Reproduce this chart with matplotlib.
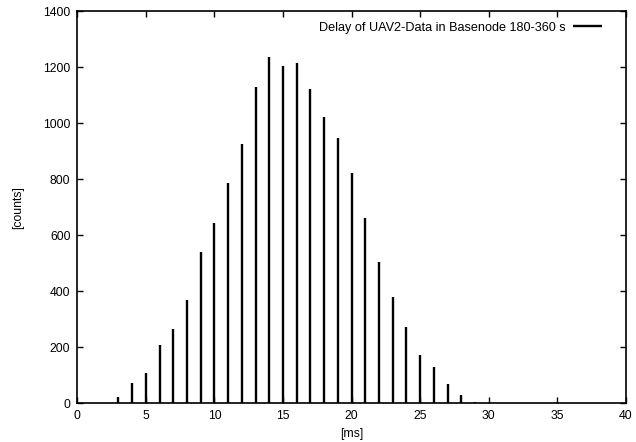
import matplotlib
matplotlib.use("Agg")
import matplotlib.pyplot as plt

plt.rcParams['font.family'] = ['Liberation Sans', 'DejaVu Sans']

delay_ms = [3, 4, 5, 6, 7, 8, 9, 10, 11, 12, 13, 14, 15, 16, 17, 18, 19, 20,
            21, 22, 23, 24, 25, 26, 27, 28, 29]
counts = [24, 72, 107, 207, 265, 369, 540, 645, 787, 926, 1130, 1238, 1206,
          1216, 1123, 1023, 947, 823, 661, 505, 378, 274, 171, 129, 68, 28, 6]
series_label = "Delay of UAV2-Data in Basenode 180-360 s"
x_ticks = [0, 5, 10, 15, 20, 25, 30, 35, 40]
y_ticks = [0, 200, 400, 600, 800, 1000, 1200, 1400]

fig = plt.figure(figsize=(6.36, 4.42), dpi=100)
ax = fig.add_axes([0.1216, 0.0876, 0.8624, 0.8864])

ax.vlines(delay_ms, 0, counts, colors='black', linewidth=1.7, label=series_label)

ax.set_xlim(0, 40)
ax.set_ylim(0, 1400)
ax.set_xticks(x_ticks)
ax.set_yticks(y_ticks)
ax.tick_params(direction='in', length=4, width=1, top=True, right=True,
               labelsize=8.8, pad=5)
for s in ax.spines.values():
    s.set_linewidth(1.2)

ax.set_xlabel('[ms]', fontsize=8.8, labelpad=4)
ax.set_ylabel('[counts]', fontsize=8.8)
ax.yaxis.set_label_coords(-0.097, 0.5)

leg = ax.legend(loc='upper right', frameon=False, markerfirst=False,
                fontsize=9.1, handlelength=2.3, handletextpad=0.63,
                borderaxespad=0.3, bbox_to_anchor=(0.973, 0.997))

fig.savefig('out.png', dpi=100)
